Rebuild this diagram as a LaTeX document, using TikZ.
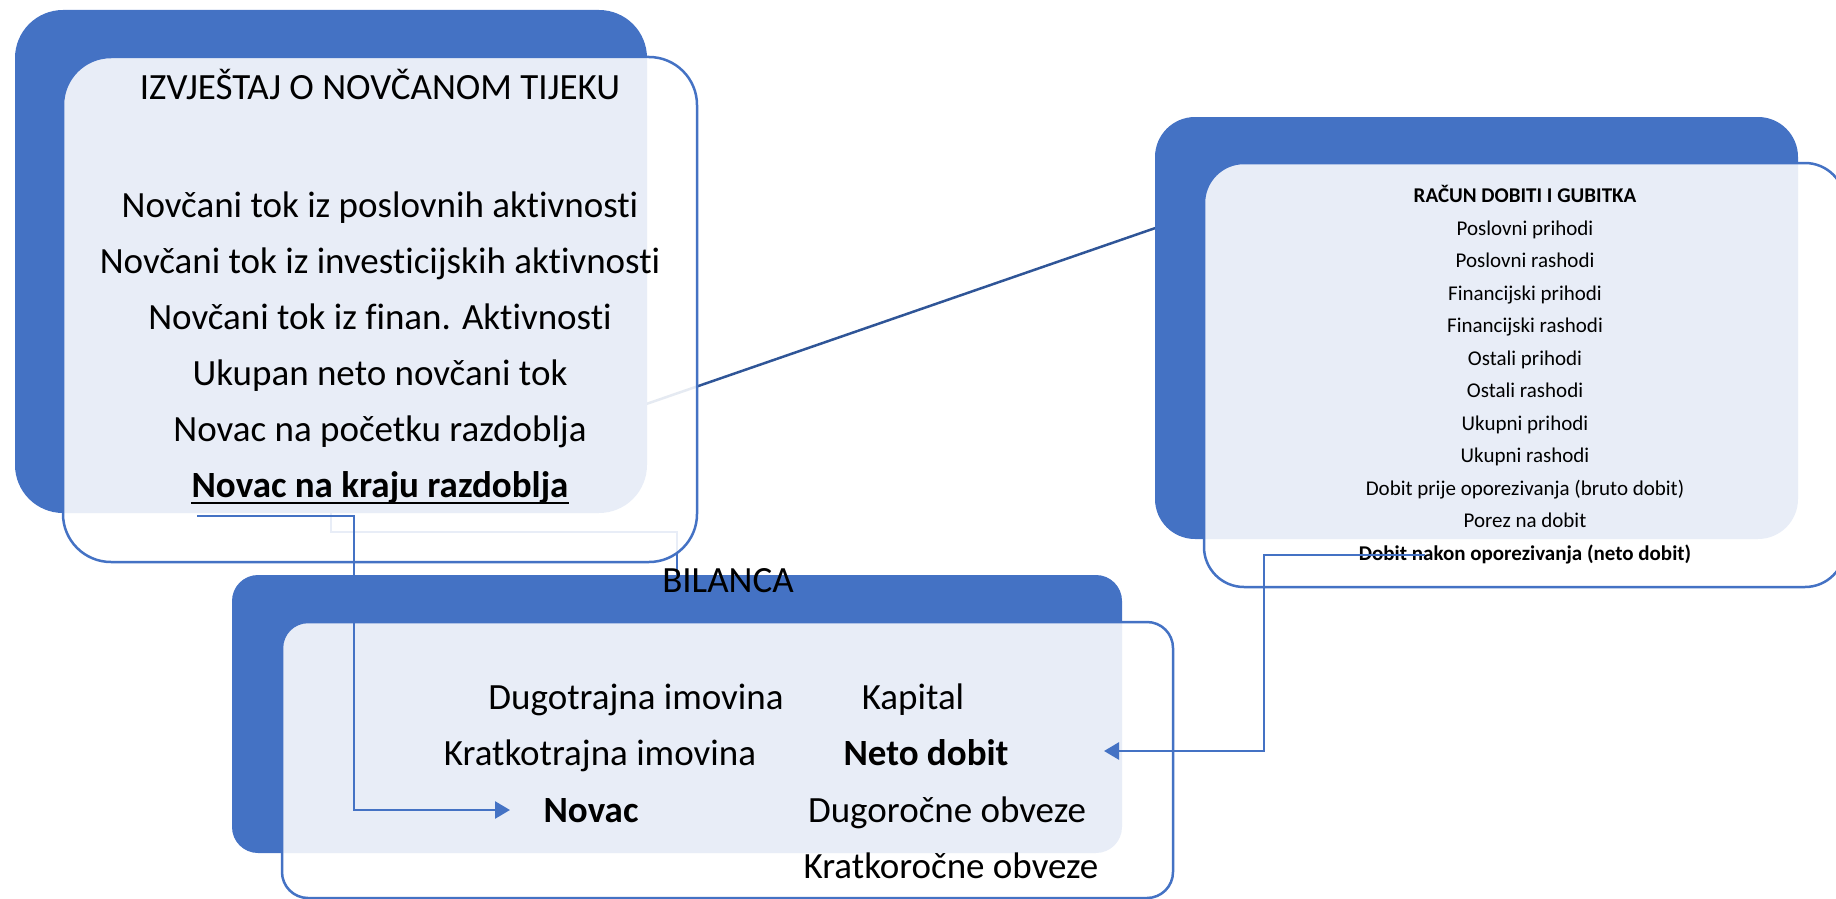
\documentclass[tikz,border=0pt]{standalone}
\usepackage{fontspec}
\setmainfont{Carlito}[Ligatures={NoCommon}]
\usetikzlibrary{arrows.meta,backgrounds}
\definecolor{acc}{HTML}{4472C4}
\definecolor{accdark}{HTML}{2F5597}
\begin{document}
\begin{tikzpicture}[x=1pt,y=-1pt,
  darkbox/.style={fill=acc,draw=none,inner sep=0pt,outer sep=0pt},
  lightbox/.style={fill=white,fill opacity=0.88,draw=acc,line width=2.5pt,inner sep=0pt},
  bigtxt/.style={font=\fontsize{37}{44}\selectfont,inner sep=0pt,anchor=base,text=black},
  bigbold/.style={font=\fontsize{37}{44}\selectfont\bfseries,inner sep=0pt,anchor=base,text=black},
  smalltxt/.style={font=\fontsize{21}{25}\selectfont,inner sep=0pt,anchor=base,text=black},
  smallbold/.style={font=\fontsize{21}{25}\selectfont\bfseries,inner sep=0pt,anchor=base,text=black},
  conn/.style={draw=acc,line width=2.7pt},
  backline/.style={draw=accdark,line width=2.5pt},
  arr/.style={conn,-{Triangle[length=15pt,width=17pt]}}]
\useasboundingbox (0,0) rectangle (1836,899);

% ---- boxes ----
\node[darkbox, rounded corners=48pt, minimum width=632pt, minimum height=503pt] (d1) at (331,261.5) {};
\node[lightbox, rounded corners=48pt, minimum width=634pt, minimum height=505pt] (l1) at (380,309.5) {};
\node[darkbox, rounded corners=40pt, minimum width=643pt, minimum height=422pt] (d2) at (1476.5,328) {};
\node[lightbox, rounded corners=40pt, minimum width=641pt, minimum height=424pt] (l2) at (1524.5,375) {};
\node[darkbox, rounded corners=26pt, minimum width=890pt, minimum height=278pt] (d3) at (677,714) {};
\node[lightbox, rounded corners=26pt, minimum width=891pt, minimum height=276pt] (l3) at (727.5,760) {};

% ---- connectors behind the boxes ----
\begin{scope}[on background layer]
\draw[backline, shorten >=4pt, shorten <=4pt] (d1.south) -- (d2.north);
\draw[conn] (d1.south) -- ++(0,19) -| (d3.north);
\end{scope}

% ---- cash flow statement ----
\node[bigtxt] (t10) at (380,99.5) {IZVJEŠTAJ O NOVČANOM TIJEKU};
\node[bigtxt] (t11) at (380,217) {Novčani tok iz poslovnih aktivnosti};
\node[bigtxt] (t12) at (380,273) {Novčani tok iz investicijskih aktivnosti};
\node[bigtxt] (t13) at (380,329) {Novčani tok iz finan. Aktivnosti};
\node[bigtxt] (t14) at (380,385) {Ukupan neto novčani tok};
\node[bigtxt] (t15) at (380,441) {Novac na početku razdoblja};
\node[bigbold] (kraj) at (380,497) {Novac na kraju razdoblja};
\draw[line width=2pt] ([yshift=-6.3pt]kraj.base west) -- ([yshift=-6.3pt]kraj.base east);

% ---- income statement ----
\node[smallbold] (t20) at (1525,202.5) {RAČUN DOBITI I GUBITKA};
\node[smalltxt] (t21) at (1525,235) {Poslovni prihodi};
\node[smalltxt] (t22) at (1525,267.5) {Poslovni rashodi};
\node[smalltxt] (t23) at (1525,300) {Financijski prihodi};
\node[smalltxt] (t24) at (1525,332.5) {Financijski rashodi};
\node[smalltxt] (t25) at (1525,365) {Ostali prihodi};
\node[smalltxt] (t26) at (1525,397.5) {Ostali rashodi};
\node[smalltxt] (t27) at (1525,430) {Ukupni prihodi};
\node[smalltxt] (t28) at (1525,462.5) {Ukupni rashodi};
\node[smalltxt] (t29) at (1525,495) {Dobit prije oporezivanja (bruto dobit)};
\node[smalltxt] (t2a) at (1525,527.5) {Porez na dobit};
\node[smallbold] (neto) at (1525,560) {Dobit nakon oporezivanja (neto dobit)};

% ---- balance sheet ----
\node[bigtxt] (t30) at (728,592) {BILANCA};
\node[bigtxt] (t31) at (636,709) {Dugotrajna imovina};
\node[bigtxt] (t32) at (913,709) {Kapital};
\node[bigtxt] (t33) at (600,765.5) {Kratkotrajna imovina};
\node[bigbold] (t34) at (926,765.5) {Neto dobit};
\node[bigbold] (novac) at (591,822) {Novac};
\node[bigtxt] (t36) at (947,822) {Dugoročne obveze};
\node[bigtxt] (t37) at (951,878) {Kratkoročne obveze};

% ---- arrows ----
\coordinate (c1) at (197,516);
\coordinate (e1) at (510,810);
\draw[arr] (c1) -- (354,516) |- (e1);
\coordinate (c2) at (1425,555);
\coordinate (e2) at (1104,751);
\draw[arr] (c2) -- (1264,555) |- (e2);
\end{tikzpicture}
\end{document}
